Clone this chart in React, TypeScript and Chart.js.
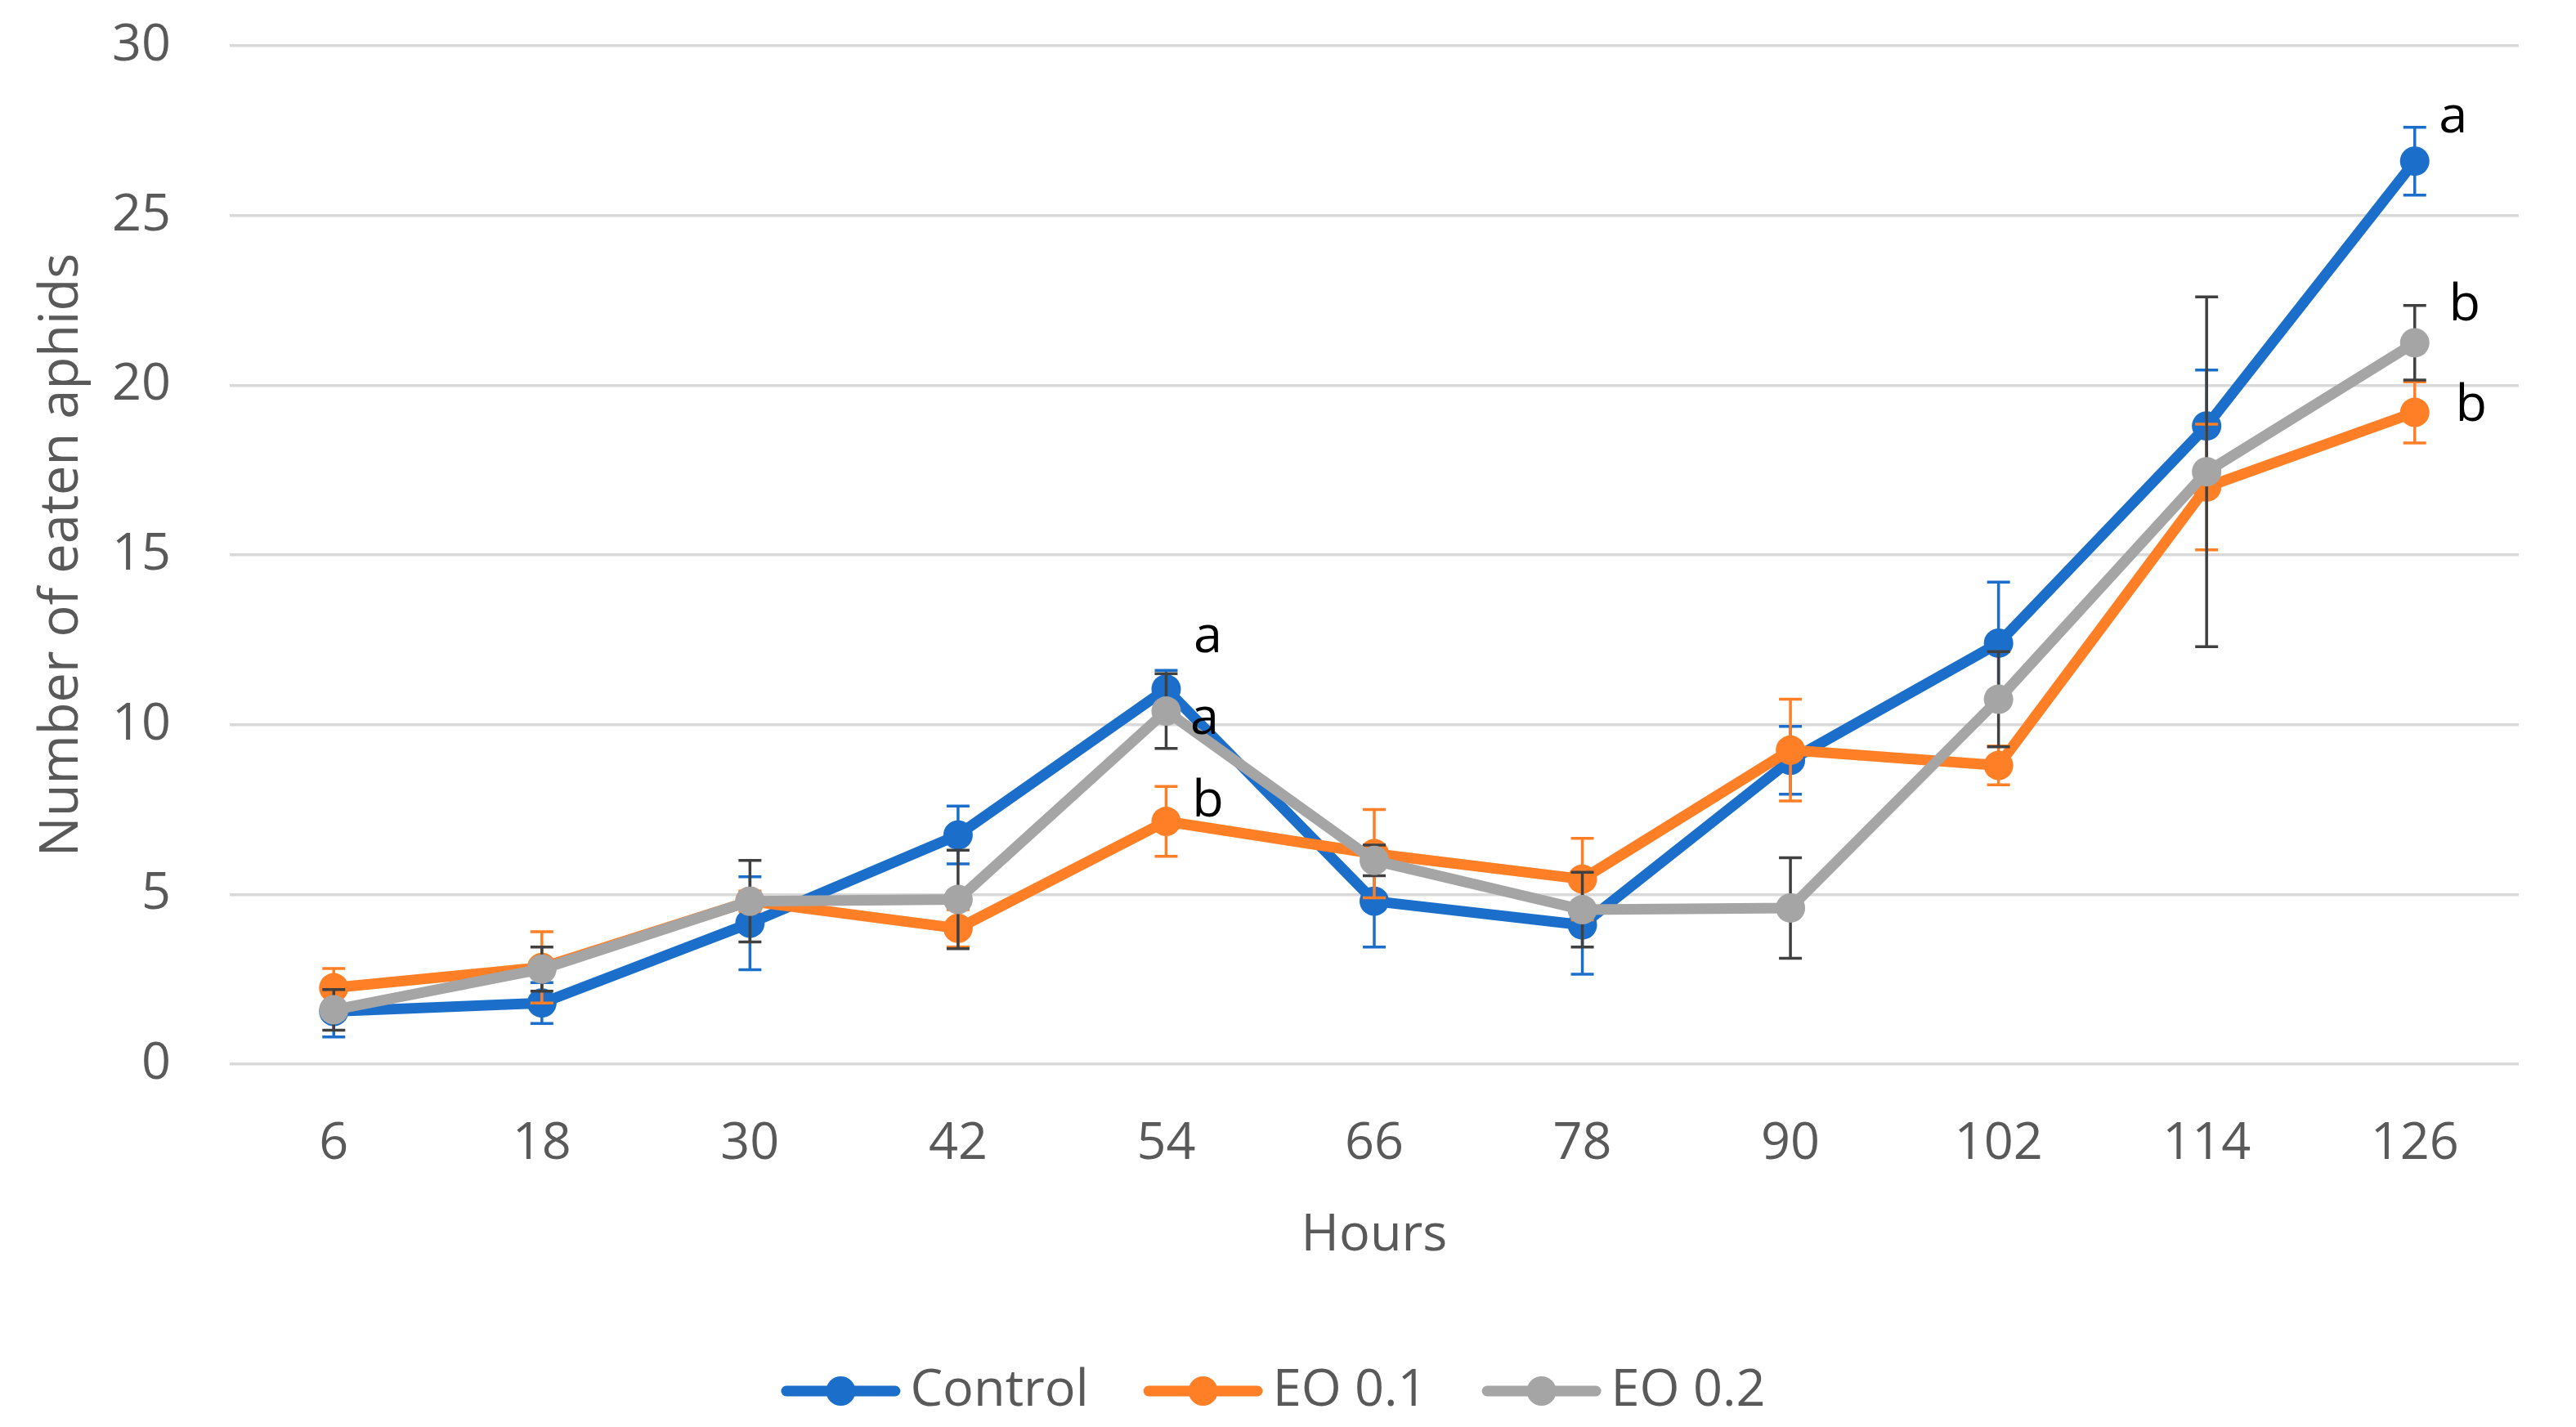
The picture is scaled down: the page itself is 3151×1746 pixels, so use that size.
import React, { useEffect, useRef } from "react";
import { Chart, registerables } from "chart.js";

Chart.register(...registerables);

// ---------- data ----------
const hours = ["6", "18", "30", "42", "54", "66", "78", "90", "102", "114", "126"];
const seriesNames = ["Control", "EO 0.1", "EO 0.2"];
const controlMeans = [1.55, 1.8, 4.15, 6.75, 11.05, 4.8, 4.1, 8.95, 12.4, 18.8, 26.6];
const controlErr = [0.75, 0.6, 1.37, 0.85, 0.55, 1.35, 1.45, 1.0, 1.8, 1.65, 1.0];
const eo01Means = [2.25, 2.85, 4.8, 4.0, 7.15, 6.2, 5.45, 9.25, 8.8, 17.0, 19.2];
const eo01Err = [0.57, 1.05, 0.3, 0.55, 1.03, 1.3, 1.2, 1.5, 0.57, 1.85, 0.9];
const eo02Means = [1.6, 2.8, 4.8, 4.85, 10.4, 6.0, 4.55, 4.6, 10.75, 17.45, 21.25];
const eo02Err = [0.6, 0.65, 1.2, 1.45, 1.1, 0.45, 1.1, 1.48, 1.4, 5.15, 1.1];
const yMin = 0;
const yMax = 30;
const yStep = 5;
const yTitle = "Number of eaten aphids";
const xTitle = "Hours";

// significance letters: series index, category index, text
const letterSeries = [0, 2, 1, 0, 2, 1];
const letterIndex = [4, 4, 4, 10, 10, 10];
const letterText = ["a", "a", "b", "a", "b", "b"];

// ---------- styles ----------
const W = 3151;
const H = 1746;
const FONT = "'Open Sans', 'Noto Sans', sans-serif";
const FS = 63;
const TEXT_GRAY = "#595959";
const COLORS = ["#1B6FCB", "#FF7F27", "#A5A5A5"];
const ERR_COLORS = ["#1B6FCB", "#FF7F27", "#404040"];
const LINE_W = 13;
const POINT_R = 18;
const letterOffsets: [number, number][] = [
  [51, -63],
  [47, 10],
  [51, -24],
  [47, -53],
  [61, -45],
  [69, -8],
];

export default function App() {
  const ref = useRef<HTMLCanvasElement>(null);

  useEffect(() => {
    document.body.style.margin = "0";
    const canvas = ref.current;
    if (!canvas) return;

    const means = [controlMeans, eo01Means, eo02Means];
    const errs = [controlErr, eo01Err, eo02Err];

    const errorBars = {
      id: "errorBars",
      beforeDatasetDraw(chart: any, args: any) {
        const i = args.index;
        const ctx = chart.ctx;
        const y = chart.scales.y;
        const meta = args.meta;
        ctx.save();
        ctx.strokeStyle = ERR_COLORS[i];
        ctx.lineWidth = 3.5;
        const cap = 14;
        meta.data.forEach((pt: any, j: number) => {
          const m = means[i][j];
          const e = errs[i][j];
          const x = pt.x;
          const yt = y.getPixelForValue(m + e);
          const yb = y.getPixelForValue(m - e);
          ctx.beginPath();
          ctx.moveTo(x, yt);
          ctx.lineTo(x, yb);
          ctx.moveTo(x - cap, yt);
          ctx.lineTo(x + cap, yt);
          ctx.moveTo(x - cap, yb);
          ctx.lineTo(x + cap, yb);
          ctx.stroke();
        });
        ctx.restore();
      },
    };

    const letters = {
      id: "letters",
      afterDatasetsDraw(chart: any) {
        const ctx = chart.ctx;
        ctx.save();
        ctx.fillStyle = "#000000";
        ctx.font = `${FS}px ${FONT}`;
        ctx.textAlign = "center";
        ctx.textBaseline = "middle";
        letterText.forEach((t, k) => {
          const meta = chart.getDatasetMeta(letterSeries[k]);
          const pt = meta.data[letterIndex[k]];
          const [dx, dy] = letterOffsets[k];
          ctx.fillText(t, pt.x + dx, pt.y + dy);
        });
        ctx.restore();
      },
    };

    const customLegend = {
      id: "customLegend",
      afterDraw(chart: any) {
        const ctx = chart.ctx;
        ctx.save();
        ctx.font = `${FS}px ${FONT}`;
        const lineLen = 146;
        const textGap = 12;
        const itemGap = 67;
        const widths = seriesNames.map((n) => ctx.measureText(n).width);
        const total =
          widths.reduce((a, b) => a + b, 0) +
          seriesNames.length * (lineLen + textGap) +
          (seriesNames.length - 1) * itemGap;
        let x = chart.width / 2 - 18 - total / 2;
        const yc = chart.scales.x.bottom + 150;
        seriesNames.forEach((n, i) => {
          ctx.strokeStyle = COLORS[i];
          ctx.lineWidth = LINE_W;
          ctx.lineCap = "round";
          ctx.beginPath();
          ctx.moveTo(x + LINE_W / 2, yc);
          ctx.lineTo(x + lineLen - LINE_W / 2, yc);
          ctx.stroke();
          ctx.fillStyle = COLORS[i];
          ctx.beginPath();
          ctx.arc(x + lineLen / 2, yc, POINT_R, 0, Math.PI * 2);
          ctx.fill();
          ctx.fillStyle = TEXT_GRAY;
          ctx.textAlign = "left";
          ctx.textBaseline = "middle";
          ctx.fillText(n, x + lineLen + textGap, yc);
          x += lineLen + textGap + widths[i] + itemGap;
        });
        ctx.restore();
      },
    };

    const chart = new Chart(canvas, {
      type: "line",
      data: {
        labels: hours,
        datasets: means.map((d, i) => ({
          label: seriesNames[i],
          data: d,
          borderColor: COLORS[i],
          backgroundColor: COLORS[i],
          pointBackgroundColor: COLORS[i],
          pointBorderWidth: 0,
          pointRadius: POINT_R,
          borderWidth: LINE_W,
          borderJoinStyle: "round" as const,
          tension: 0,
          order: 2 - i,
        })),
      },
      options: {
        responsive: false,
        animation: false,
        devicePixelRatio: 1,
        layout: { padding: { top: 56, right: 70, bottom: 194, left: 0 } },
        plugins: {
          legend: { display: false },
          tooltip: { enabled: false },
        },
        scales: {
          x: {
            offset: true,
            grid: { display: false },
            border: { display: false },
            ticks: {
              color: TEXT_GRAY,
              font: { family: FONT, size: FS },
              padding: 52,
              maxRotation: 0,
            },
            title: {
              display: true,
              text: xTitle,
              color: TEXT_GRAY,
              font: { family: FONT, size: FS },
              padding: { top: 0, bottom: 2 },
            },
            afterFit: (s: any) => {
              s.height = 250;
            },
          },
          y: {
            min: yMin,
            max: yMax,
            grid: { color: "#D9D9D9", lineWidth: 3.5, drawTicks: false },
            border: { display: false },
            ticks: {
              stepSize: yStep,
              color: TEXT_GRAY,
              font: { family: FONT, size: FS },
              padding: 72,
            },
            title: {
              display: true,
              text: yTitle,
              color: TEXT_GRAY,
              font: { family: FONT, size: 65 },
              padding: { top: 37, bottom: 0 },
            },
            afterFit: (s: any) => {
              s.width = 281;
              s.paddingTop = 0;
              s.paddingBottom = 0;
            },
          },
        },
      },
      plugins: [errorBars, letters, customLegend],
    });

    return () => chart.destroy();
  }, []);

  return (
    <div style={{ width: W, height: H }}>
      <canvas ref={ref} width={W} height={H} style={{ display: "block" }} />
    </div>
  );
}
